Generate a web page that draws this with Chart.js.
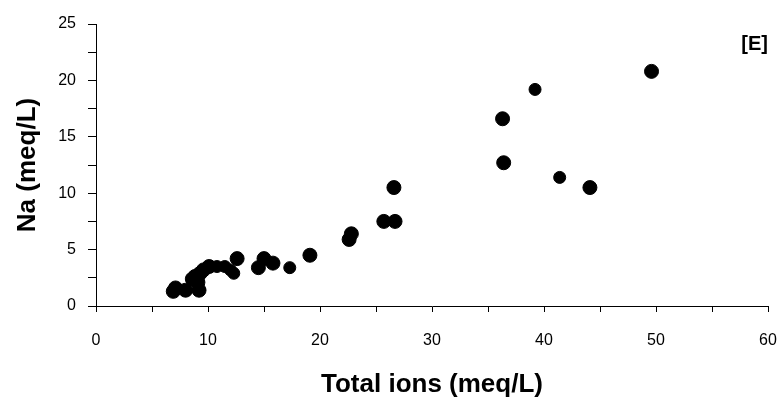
<!DOCTYPE html>
<html>
<head>
<meta charset="utf-8">
<script src="https://cdn.jsdelivr.net/npm/chart.js@4"></script>
<style>
  html, body { margin: 0; padding: 0; background: #fff; }
  #wrap { width: 778px; height: 400px; position: relative; }
</style>
</head>
<body>
<div id="wrap"><canvas id="myChart" width="778" height="400"></canvas></div>
<script>
// big markers
var bigX = [49.6, 36.3, 36.4, 44.1, 26.6, 25.7, 26.7, 22.8, 22.6, 19.1, 12.6, 15.0, 15.8, 14.5, 6.9, 7.1, 8.0, 9.2, 8.6, 9.3, 9.6, 10.1, 9.1];
var bigY = [20.8, 16.6, 12.7, 10.5, 10.5, 7.5, 7.5, 6.4, 5.9, 4.5, 4.2, 4.2, 3.8, 3.4, 1.3, 1.6, 1.4, 1.4, 2.4, 2.9, 3.2, 3.5, 2.1];
// small markers
var smallX = [39.2, 41.4, 17.3, 10.8, 11.5, 12.3, 8.8, 12.0];
var smallY = [19.2, 11.4, 3.4, 3.5, 3.5, 2.9, 2.7, 3.2];

var xTitle = 'Total ions (meq/L)';
var yTitle = 'Na (meq/L)';
var panelLabel = '[E]';

var fontFam = '"Liberation Sans", Arial, sans-serif';

function toPoints(xs, ys) {
    return xs.map(function (x, i) { return {x: x, y: ys[i]}; });
}

var labelPlugin = {
    id: 'panelLabel',
    afterDraw: function (chart) {
        var ctx = chart.ctx;
        ctx.save();
        ctx.font = 'bold 20px ' + fontFam;
        ctx.fillStyle = '#000';
        ctx.textAlign = 'right';
        ctx.textBaseline = 'middle';
        ctx.fillText(panelLabel, 768, 44);
        ctx.restore();
    }
};

var ctx = document.getElementById('myChart').getContext('2d');
var myChart = new Chart(ctx, {
    type: 'scatter',
    data: {
        datasets: [{
            data: toPoints(bigX, bigY),
            backgroundColor: '#000',
            borderColor: '#000',
            pointRadius: 7,
            pointHoverRadius: 7
        }, {
            data: toPoints(smallX, smallY),
            backgroundColor: '#000',
            borderColor: '#000',
            pointRadius: 6,
            pointHoverRadius: 6
        }]
    },
    options: {
        responsive: false,
        animation: false,
        layout: { padding: { top: 24, right: 10, left: 0, bottom: 0 } },
        plugins: { legend: { display: false }, tooltip: { enabled: false } },
        scales: {
            x: {
                type: 'linear',
                min: 0, max: 60,
                afterFit: function (s) { s.height = 94; s.paddingRight = 0; },
                ticks: {
                    stepSize: 5,
                    color: '#000',
                    font: { size: 16, family: fontFam },
                    padding: 19,
                    maxRotation: 0,
                    callback: function (v) { return v % 10 === 0 ? v : ''; }
                },
                grid: { drawOnChartArea: false, drawTicks: true, tickLength: 6, color: '#000' },
                border: { display: true, color: '#000', width: 1 },
                title: {
                    display: true, text: xTitle, color: '#000',
                    font: { size: 26, weight: 'bold', family: fontFam },
                    padding: { top: 0, bottom: 0 }
                }
            },
            y: {
                min: 0, max: 25,
                afterFit: function (s) { s.width = 96; },
                ticks: {
                    stepSize: 2.5,
                    color: '#000',
                    font: { size: 16, family: fontFam },
                    padding: 12,
                    callback: function (v) { return v % 5 === 0 ? v : ''; }
                },
                grid: { drawOnChartArea: false, drawTicks: true, tickLength: 8, color: '#000' },
                border: { display: true, color: '#000', width: 1 },
                title: {
                    display: true, text: yTitle, color: '#000',
                    font: { size: 26, weight: 'bold', family: fontFam },
                    padding: { top: 12, bottom: 0 }
                }
            }
        }
    },
    plugins: [labelPlugin]
});
</script>
</body>
</html>
